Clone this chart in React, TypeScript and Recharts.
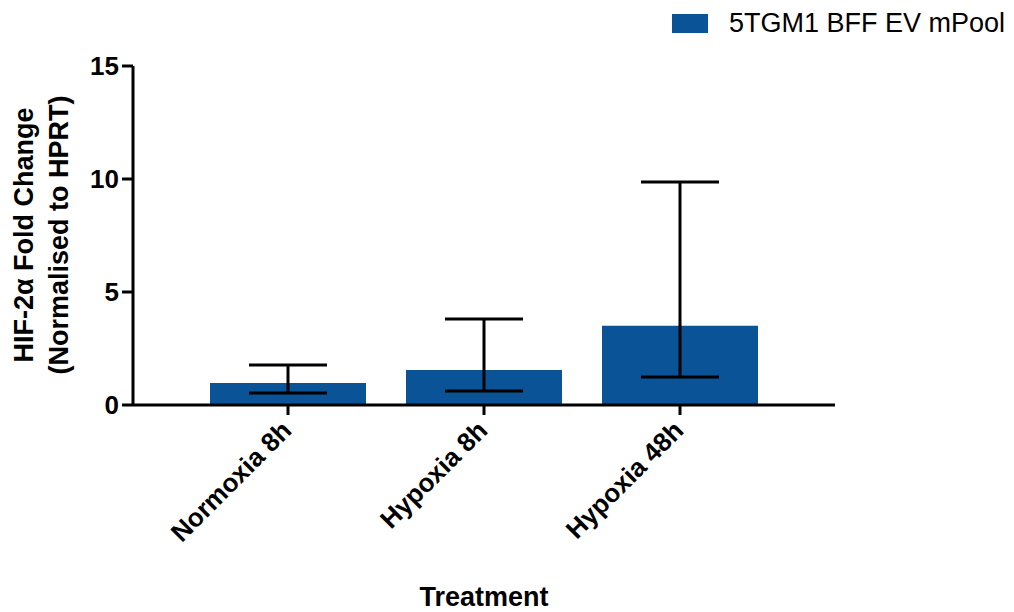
import React from "react";
import { BarChart, Bar, XAxis, YAxis, ErrorBar, Legend, Label } from "recharts";

const categories = ["Normoxia 8h", "Hypoxia 8h", "Hypoxia 48h"];
const means = [0.97, 1.55, 3.51];
const lowerValues = [0.53, 0.62, 1.24];
const upperValues = [1.77, 3.81, 9.87];
const yTicks = [0, 5, 10, 15];
const seriesName = "5TGM1 BFF EV mPool";

const data = categories.map((c, i) => ({
  name: c,
  value: means[i],
  err: [means[i] - lowerValues[i], upperValues[i] - means[i]],
}));

const BLUE = "#0A5396";
const FONT = "'Liberation Sans', Arial, Helvetica, sans-serif";

const XTick = (props: any) => {
  const { x, y, payload } = props;
  return (
    <g transform={`translate(${x + 5},${y + 15})`}>
      <text
        x={0}
        y={0}
        textAnchor="end"
        transform="rotate(-45)"
        fontFamily={FONT}
        fontWeight="bold"
        fontSize={26}
        fill="#000"
      >
        {payload.value}
      </text>
    </g>
  );
};

const YTick = (props: any) => {
  const { x, y, payload } = props;
  return (
    <text
      x={x}
      y={y}
      dy={9}
      textAnchor="end"
      fontFamily={FONT}
      fontWeight="bold"
      fontSize={26}
      fill="#000"
    >
      {payload.value}
    </text>
  );
};

const YTitle = () => (
  <g>
    <text
      x={33}
      y={235}
      transform="rotate(-90, 33, 235)"
      textAnchor="middle"
      fontFamily={FONT}
      fontWeight="bold"
      fontSize={27}
      fill="#000"
    >
      HIF-2α Fold Change
    </text>
    <text
      x={68}
      y={235}
      transform="rotate(-90, 68, 235)"
      textAnchor="middle"
      fontFamily={FONT}
      fontWeight="bold"
      fontSize={27}
      fill="#000"
    >
      (Normalised to HPRT)
    </text>
  </g>
);

const XTitle = () => (
  <text
    x={484}
    y={606}
    textAnchor="middle"
    fontFamily={FONT}
    fontWeight="bold"
    fontSize={27}
    fill="#000"
  >
    Treatment
  </text>
);

const LegendContent = () => (
  <div style={{ display: "flex", alignItems: "center", fontFamily: FONT, fontSize: 27, color: "#000" }}>
    <div style={{ width: 36, height: 19, background: BLUE, marginRight: 21 }} />
    <span style={{ lineHeight: "30px" }}>{seriesName}</span>
  </div>
);

export default function App() {
  return (
    <div style={{ position: "absolute", left: 0, top: 0, width: 1014, height: 612, background: "#fff" }}>
      <BarChart
        width={1014}
        height={612}
        data={data}
        margin={{ top: 66, right: 179, bottom: 0, left: 0 }}
        barCategoryGap={40}
      >
        <XAxis
          dataKey="name"
          height={207}
          padding={{ left: 57, right: 57 }}
          axisLine={{ stroke: "#000", strokeWidth: 3 }}
          tickLine={{ stroke: "#000", strokeWidth: 3 }}
          tickSize={10}
          tick={<XTick />}
          interval={0}
        >
          <Label content={<XTitle />} />
        </XAxis>
        <YAxis
          width={133}
          domain={[0, 15]}
          ticks={yTicks}
          axisLine={{ stroke: "#000", strokeWidth: 3 }}
          tickLine={{ stroke: "#000", strokeWidth: 3 }}
          tickSize={11}
          tickMargin={3}
          tick={<YTick />}
          interval={0}
        >
          <Label content={<YTitle />} />
        </YAxis>
        <Legend
          layout="vertical"
          align="center"
          verticalAlign="middle"
          content={<LegendContent />}
          wrapperStyle={{ top: 8, left: 672, width: 340 }}
        />
        <Bar dataKey="value" name={seriesName} fill={BLUE} barSize={156} isAnimationActive={false}>
          <ErrorBar dataKey="err" width={39} stroke="#000" strokeWidth={3} isAnimationActive={false} />
        </Bar>
      </BarChart>
    </div>
  );
}
